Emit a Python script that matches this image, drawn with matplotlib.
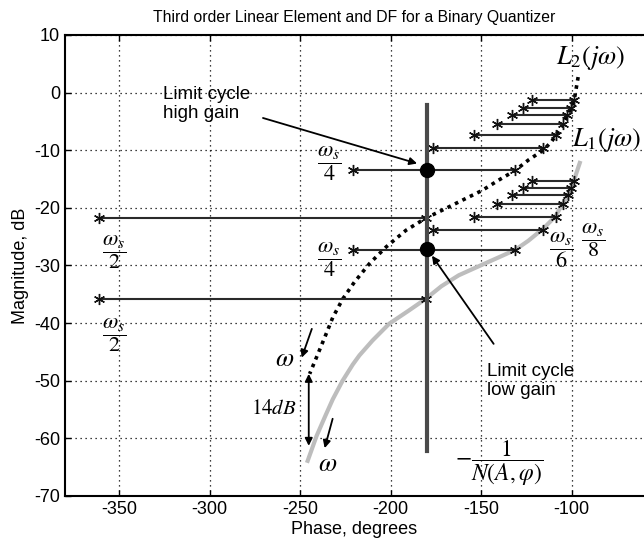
import matplotlib
matplotlib.use("Agg")
import matplotlib.pyplot as plt
import numpy as np

plt.rcParams['font.family'] = ['Liberation Sans', 'DejaVu Sans']
plt.rcParams['mathtext.fontset'] = 'stix'
plt.rcParams['axes.unicode_minus'] = False

# L2(jw) - high gain linear element (phase deg, magnitude dB)
l2_phase = [-96.4, -98.6, -100.4, -102.3, -104.7, -108.7, -111.1, -115.7, -123.9,
            -131.2, -140.4, -149.6, -160.6, -171.5, -180.7, -191.6, -202.6,
            -211.8, -220.1, -226.5, -232.0, -236.5, -241.1, -244.8]
l2_mag = [2.7, -1.3, -2.6, -3.9, -5.5, -7.4, -8.5, -10.0, -11.7,
          -13.5, -15.2, -17.0, -18.7, -20.4, -21.8, -23.9, -26.8,
          -29.7, -32.9, -35.8, -39.0, -42.5, -46.0, -48.8]

# L1(jw) - low gain linear element
l1_phase = [-95.5, -98.8, -100.4, -101.9, -105.0, -109.0, -115.7, -123.9, -131.2,
            -140.4, -150.4, -162.4, -172.0, -180.7, -189.9, -200.8, -210.0,
            -217.3, -221.0, -226.6, -232.0, -236.0, -241.0, -245.9]
l1_mag = [-12.2, -15.3, -16.6, -17.8, -19.3, -21.5, -23.6, -25.7, -27.3,
          -28.6, -30.0, -31.7, -33.6, -35.8, -37.8, -40.1, -43.0,
          -45.6, -47.2, -50.0, -53.2, -56.0, -59.6, -63.9]

# harmonic segments (left phase, right phase, magnitude)
hi_left = [-121.7, -126.7, -133.1, -141.3, -153.7, -176.5]
hi_right = [-98.6, -100.4, -102.3, -104.7, -108.7, -116.0]
hi_mag = [-1.3, -2.6, -3.9, -5.5, -7.4, -9.6]

lo_left = [-121.7, -126.7, -133.1, -141.3, -153.7, -176.5]
lo_right = [-98.6, -100.4, -101.9, -104.7, -108.7, -116.0]
lo_mag = [-15.4, -16.6, -17.8, -19.3, -21.5, -23.8]

# ws/4 segments and ws/2 segments
q_left = [-221.0, -221.0]
q_right = [-131.2, -131.2]
q_mag = [-13.5, -27.3]

h_left = [-361.3, -361.3]
h_right = [-180.5, -180.5]
h_mag = [-21.8, -35.9]

# -1/N(A,phi) for binary quantizer
df_phase = [-180, -180]
df_mag = [-2.2, -62.2]

# limit cycles
lc_phase = [-180, -180]
lc_mag = [-13.5, -27.2]

fig = plt.figure(figsize=(6.44, 5.46), dpi=100)
ax = fig.add_axes([0.101, 0.0916, 0.899, 0.8443])

ax.set_xlim(-380, -60)
ax.set_ylim(-70, 10)
ax.set_xticks([-350, -300, -250, -200, -150, -100])
ax.set_yticks(np.arange(-70, 11, 10))
ax.grid(True, color='k', linestyle=(0, (1, 3)), linewidth=0.9)
ax.set_axisbelow(True)
ax.tick_params(direction='in', length=4, top=True, labelsize=13, width=1)
for s in ['left', 'bottom', 'top']:
    ax.spines[s].set_linewidth(1.5)
ax.spines['right'].set_visible(False)

ax.set_title('Third order Linear Element and DF for a Binary Quantizer',
             fontsize=11.3, pad=9)
ax.set_xlabel('Phase, degrees', fontsize=13, labelpad=2)
ax.set_ylabel('Magnitude, dB', fontsize=13, labelpad=4)

ast = (6, 2, 0)
segs = [(hi_left, hi_right, hi_mag), (lo_left, lo_right, lo_mag),
        (q_left, q_right, q_mag), (h_left, h_right, h_mag)]
for left, right, mag in segs:
    for a, b, m in zip(left, right, mag):
        ax.plot([a, b], [m, m], color='#2a2a2a', lw=1.5, marker=ast,
                ms=8, mew=1.0, mec='#111111', zorder=3)

ax.plot(l1_phase, l1_mag, color='#bdbdbd', lw=3, zorder=2)
ax.plot(l2_phase, l2_mag, color='k', lw=2.6, linestyle=(0, (1, 1.3)), zorder=2)
ax.plot(df_phase, df_mag, color='#4a4a4a', lw=3, zorder=4)
ax.plot(lc_phase, lc_mag, 'o', color='k', ms=10, zorder=5)

arr = dict(arrowstyle='-|>', color='k', lw=1.3, mutation_scale=11,
           shrinkA=0, shrinkB=0)
ax.annotate('', xy=(-185.4, -12.3), xytext=(-270.6, -4.4), arrowprops=arr)
ax.annotate('', xy=(-177.2, -28.3), xytext=(-143.1, -43.6), arrowprops=arr)
ax.annotate('', xy=(-249.2, -46.0), xytext=(-243.6, -41.0), arrowprops=arr)
ax.annotate('', xy=(-236.5, -61.7), xytext=(-232.1, -56.6), arrowprops=arr)
ax.annotate('', xy=(-245.3, -61.3), xytext=(-245.3, -48.8),
            arrowprops=dict(arrowstyle='<|-|>', color='k', lw=1.3,
                            mutation_scale=11, shrinkA=0, shrinkB=0))

ax.text(-326, -1.9, 'Limit cycle\nhigh gain', fontsize=13.5, ha='left',
        va='center', linespacing=1.15)
ax.text(-146.7, -50.0, 'Limit cycle\nlow gain', fontsize=13.5, ha='left',
        va='center', linespacing=1.15)

ax.text(-108.5, 6.0, r'$L_2(j\omega)$', fontsize=19, ha='left', va='center')
ax.text(-100.0, -8.3, r'$L_1(j\omega)$', fontsize=19, ha='left', va='center')
frac = dict(fontsize=16, ha='center', va='center')
ax.text(-233.8, -12.3, r'$\dfrac{\omega_s}{4}$', **frac)
ax.text(-233.8, -29.0, r'$\dfrac{\omega_s}{4}$', **frac)
ax.text(-353, -27.7, r'$\dfrac{\omega_s}{2}$', **frac)
ax.text(-353, -42.0, r'$\dfrac{\omega_s}{2}$', **frac)
ax.text(-105.7, -27.4, r'$\dfrac{\omega_s}{6}$', **frac)
ax.text(-88.1, -25.5, r'$\dfrac{\omega_s}{8}$', **frac)
ax.text(-258.5, -46.2, r'$\omega$', fontsize=19, ha='center', va='center')
ax.text(-234.9, -64.4, r'$\omega$', fontsize=19, ha='center', va='center')
ax.text(-251.9, -54.9, r'$14dB$', fontsize=15, ha='right', va='center')
ax.text(-140.3, -64.3, r'$-\dfrac{1}{N(A,\varphi)}$', fontsize=17,
        ha='center', va='center')

fig.savefig('out.png', dpi=100)
